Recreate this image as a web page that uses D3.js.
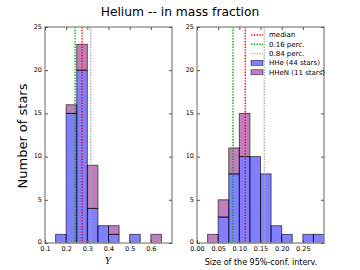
<!DOCTYPE html>
<html>
<head>
<meta charset="utf-8">
<script src="https://cdn.jsdelivr.net/npm/d3@7"></script>
<style>
  body { margin: 0; background: #fff; }
  svg { display: block; font-family: "DejaVu Sans", sans-serif; }
</style>
</head>
<body>
<div id="chart"></div>
<script>
// histogram data (bin left edges + counts), stacked: HHe below, HHeN on top
const leftEdges = [0.15, 0.2, 0.25, 0.3, 0.35, 0.4, 0.45, 0.5, 0.55, 0.6];
const leftHHe   = [1, 15, 20, 4, 2, 1, 0, 1, 0, 0];
const leftHHeN  = [0, 1, 3, 5, 0, 1, 0, 0, 0, 1];
const leftBin = 0.05;

const rightEdges = [0.025, 0.05, 0.075, 0.1, 0.125, 0.15, 0.175, 0.2, 0.225, 0.25, 0.275];
const rightHHe   = [0, 3, 8, 10, 10, 8, 2, 1, 0, 1, 1];
const rightHHeN  = [1, 2, 3, 5, 0, 0, 0, 0, 0, 0, 0];
const rightBin = 0.025;

// percentile lines: [0.16, median, 0.84]
const leftPerc  = [0.242, 0.275, 0.316];
const rightPerc = [0.085, 0.114, 0.159];

const leftTicks  = [0.1, 0.2, 0.3, 0.4, 0.5, 0.6];
const rightTicks = [0.00, 0.05, 0.10, 0.15, 0.20, 0.25];
const yTicks = [0, 5, 10, 15, 20, 25];

const W = 360, H = 270;
const svg = d3.select('#chart').append('svg')
  .attr('width', W).attr('height', H);

const yTop = 27, yBot = 243;
const y = d3.scaleLinear().domain([0, 25]).range([yBot, yTop]);

const blue = '#0000ff', purple = '#800080';
const percColors = ['#00aa00', '#ff0000', '#aaaaaa'];

// title
svg.append('text')
  .attr('x', 180).attr('y', 16)
  .attr('text-anchor', 'middle')
  .attr('font-size', 12.3)
  .text('Helium -- in mass fraction');

// y label
svg.append('text')
  .attr('transform', 'translate(27,136) rotate(-90)')
  .attr('text-anchor', 'middle')
  .attr('font-size', 13)
  .text('Number of stars');

function panel(x0, x1, domain, edges, hhe, hhen, bin, perc, ticks, fmt) {
  const x = d3.scaleLinear().domain(domain).range([x0, x1]);
  const g = svg.append('g');

  const rows = edges.map((e, i) => ({e: e, a: hhe[i], b: hhen[i]}));

  // blue HHe bars
  g.selectAll('.hhe')
    .data(rows.filter(d => d.a > 0))
    .join('rect')
      .attr('x', d => x(d.e))
      .attr('width', d => x(d.e + bin) - x(d.e))
      .attr('y', d => y(d.a))
      .attr('height', d => y(0) - y(d.a))
      .attr('fill', blue).attr('fill-opacity', 0.5)
      .attr('stroke', '#000').attr('stroke-opacity', 0.6)
      .attr('stroke-width', 1);

  // purple HHeN stacked
  g.selectAll('.hhen')
    .data(rows.filter(d => d.b > 0))
    .join('rect')
      .attr('x', d => x(d.e))
      .attr('width', d => x(d.e + bin) - x(d.e))
      .attr('y', d => y(d.a + d.b))
      .attr('height', d => y(d.a) - y(d.a + d.b))
      .attr('fill', purple).attr('fill-opacity', 0.5)
      .attr('stroke', '#000').attr('stroke-opacity', 0.6)
      .attr('stroke-width', 1);

  // percentile lines
  g.selectAll('.perc')
    .data(perc)
    .join('line')
      .attr('x1', d => x(d)).attr('x2', d => x(d))
      .attr('y1', yTop).attr('y2', yBot)
      .attr('stroke', (d, i) => percColors[i])
      .attr('stroke-width', 1.4)
      .attr('stroke-dasharray', '1.4,1.4');

  // frame
  g.append('rect')
    .attr('x', x0).attr('y', yTop)
    .attr('width', x1 - x0).attr('height', yBot - yTop)
    .attr('fill', 'none').attr('stroke', '#999').attr('stroke-width', 1.5);

  // inward ticks
  const ax = d3.axisBottom(x).tickValues(ticks).tickSize(-3).tickFormat(fmt);
  const gx = g.append('g').attr('transform', `translate(0,${yBot})`).call(ax);
  const axTop = d3.axisTop(x).tickValues(ticks).tickSize(-3).tickFormat('');
  g.append('g').attr('transform', `translate(0,${yTop})`).call(axTop);
  const ay = d3.axisLeft(y).tickValues(yTicks).tickSize(-3);
  const gy = g.append('g').attr('transform', `translate(${x0},0)`).call(ay);
  const ayR = d3.axisRight(y).tickValues(yTicks).tickSize(-3).tickFormat('');
  g.append('g').attr('transform', `translate(${x1},0)`).call(ayR);

  g.selectAll('.domain').remove();
  g.selectAll('.tick line').attr('stroke', '#555');
  g.selectAll('.tick text').attr('font-size', 6.5).attr('fill', '#000')
    .attr('font-family', '"DejaVu Sans", sans-serif');
  gx.selectAll('.tick text').attr('y', 3.5);
  gy.selectAll('.tick text').attr('dy', '0.2em');
  gy.selectAll('.tick text').filter(d => d === 0).attr('dy', '0.05em');
  return x;
}

panel(45, 172, [0.1, 0.7], leftEdges, leftHHe, leftHHeN, leftBin, leftPerc, leftTicks, d3.format('.1f'));
panel(197, 324, [0, 0.3], rightEdges, rightHHe, rightHHeN, rightBin, rightPerc, rightTicks, d3.format('.2f'));

// x labels
svg.append('text')
  .attr('x', 108).attr('y', 264)
  .attr('text-anchor', 'middle')
  .attr('font-size', 9).attr('font-style', 'italic')
  .attr('font-family', '"DejaVu Serif", serif')
  .text('Y');

svg.append('text')
  .attr('x', 261).attr('y', 265)
  .attr('text-anchor', 'middle')
  .attr('font-size', 8)
  .text('Size of the 95%-conf. interv.');

// legend
const legendItems = [
  {label: 'median', type: 'line', color: percColors[1]},
  {label: '0.16 perc.', type: 'line', color: percColors[0]},
  {label: '0.84 perc.', type: 'line', color: percColors[2]},
  {label: 'HHe (44 stars)', type: 'rect', color: blue},
  {label: 'HHeN (11 stars)', type: 'rect', color: purple}
];
const lg = svg.append('g').attr('transform', 'translate(251,35)')
  .selectAll('g').data(legendItems).join('g')
    .attr('transform', (d, i) => `translate(0,${i * 9.3})`);
lg.filter(d => d.type === 'line').append('line')
  .attr('x1', 0).attr('x2', 12).attr('y1', 0).attr('y2', 0)
  .attr('stroke', d => d.color).attr('stroke-width', 1.4)
  .attr('stroke-dasharray', '1.4,1.4');
lg.filter(d => d.type === 'rect').append('rect')
  .attr('x', 0).attr('y', -2.5).attr('width', 12).attr('height', 5)
  .attr('fill', d => d.color).attr('fill-opacity', 0.5)
  .attr('stroke', '#000').attr('stroke-opacity', 0.6).attr('stroke-width', 0.8);
lg.append('text')
  .attr('x', 18).attr('y', 0).attr('dy', '0.35em')
  .attr('font-size', 7)
  .text(d => d.label);
</script>
</body>
</html>
